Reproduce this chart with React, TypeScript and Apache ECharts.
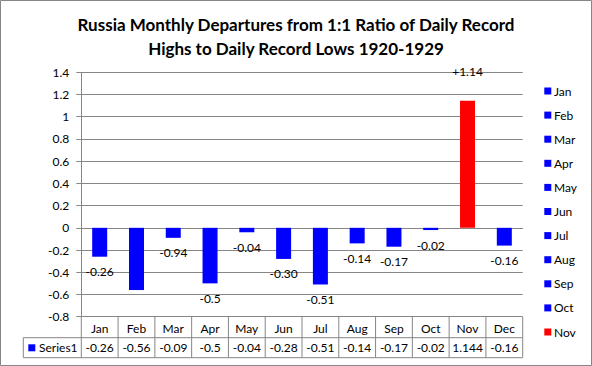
import React, { useEffect, useRef } from "react";
import * as echarts from "echarts";

const categories = ["Jan", "Feb", "Mar", "Apr", "May", "Jun", "Jul", "Aug", "Sep", "Oct", "Nov", "Dec"];
const values = [-0.26, -0.56, -0.09, -0.5, -0.04, -0.28, -0.51, -0.14, -0.17, -0.02, 1.144, -0.16];
const tableTexts = ["-0.26", "-0.56", "-0.09", "-0.5", "-0.04", "-0.28", "-0.51", "-0.14", "-0.17", "-0.02", "1.144", "-0.16"];
const barLabels = ["-0.26", "", "-0.94", "-0.5", "-0.04", "-0.30", "-0.51", "-0.14", "-0.17", "-0.02", "+1.14", "-0.16"];
const legendItems = ["Jan", "Feb", "Mar", "Apr", "May", "Jun", "Jul", "Aug", "Sep", "Oct", "Nov"];
const highlightMonth = "Nov";
const seriesName = "Series1";

const FONT = "Lato";
const BLUE = "#0000ff";
const RED = "#ff0000";
const GRAY = "#868686";

const W = 592;
const H = 366;
const GRID_LEFT = 81.3;
const GRID_RIGHT = 522.7;
const GRID_TOP = 72.3;
const GRID_BOTTOM = 316.7;
const ROW1_BOTTOM = 337.7;
const ROW2_BOTTOM = 357.7;
const TABLE_LEFT = 23.3;

export default function App() {
  const ref = useRef<HTMLDivElement>(null);
  useEffect(() => {
    document.body.style.margin = "0";
    const chart = echarts.init(ref.current!, null, { renderer: "svg" });
    const colorOf = (c: string) => (c === highlightMonth ? RED : BLUE);
    const option: any = {
      animation: false,
      title: {
        text: "Russia Monthly Departures from 1:1 Ratio of Daily Record\nHighs to Daily Record Lows 1920-1929",
        left: "center",
        top: 7,
        textStyle: { fontFamily: FONT, fontSize: 17, fontWeight: "bold", color: "#000", lineHeight: 24 },
      },
      grid: { left: GRID_LEFT, right: W - GRID_RIGHT, top: GRID_TOP, bottom: H - GRID_BOTTOM, containLabel: false },
      xAxis: {
        type: "category",
        data: categories,
        axisLine: { show: true, lineStyle: { color: GRAY, width: 1 } },
        axisTick: { show: false },
        axisLabel: { fontFamily: FONT, fontSize: 12, color: "#000", margin: 6, interval: 0 },
        splitLine: { show: false },
      },
      yAxis: {
        type: "value",
        min: -0.8,
        max: 1.4,
        interval: 0.2,
        axisLine: { show: true, lineStyle: { color: GRAY, width: 1 } },
        axisTick: { show: true, length: 5, lineStyle: { color: GRAY } },
        axisLabel: { fontFamily: FONT, fontSize: 12, color: "#000", margin: 12 },
        splitLine: { show: true, lineStyle: { color: GRAY, width: 1 } },
      },
      series: [
        {
          type: "bar",
          name: seriesName,
          barWidth: 15,
          data: values.map((v, i) => ({
            value: v,
            itemStyle: { color: colorOf(categories[i]) },
            label: {
              show: barLabels[i] !== "",
              position: v >= 0 ? "top" : "bottom",
              distance: v >= 0 ? 23 : 9,
              formatter: () => barLabels[i],
              fontFamily: FONT,
              fontSize: 12,
              color: "#000",
            },
          })),
        },
      ],
    };
    chart.setOption(option);

    const cellW = (GRID_RIGHT - GRID_LEFT) / categories.length;
    const graphics: any[] = [];
    graphics.push({
      type: "rect",
      shape: { x: 0.5, y: 0.5, width: W - 1, height: H - 1 },
      style: { fill: "none", stroke: GRAY, lineWidth: 1 },
      silent: true,
    });
    // series row of data table
    graphics.push({
      type: "rect",
      shape: { x: TABLE_LEFT, y: ROW1_BOTTOM, width: GRID_RIGHT - TABLE_LEFT, height: ROW2_BOTTOM - ROW1_BOTTOM },
      style: { fill: "none", stroke: GRAY, lineWidth: 1 },
    });
    graphics.push({
      type: "line",
      shape: { x1: GRID_RIGHT, y1: GRID_BOTTOM, x2: GRID_RIGHT, y2: ROW1_BOTTOM },
      style: { stroke: GRAY, lineWidth: 1 },
    });
    categories.forEach((c, i) => {
      const center = chart.convertToPixel({ xAxisIndex: 0 }, c) as unknown as number;
      const bx = center - cellW / 2;
      graphics.push({
        type: "line",
        shape: { x1: bx, y1: GRID_BOTTOM, x2: bx, y2: ROW2_BOTTOM },
        style: { stroke: GRAY, lineWidth: 1 },
      });
      graphics.push({
        type: "text",
        x: center,
        y: (ROW1_BOTTOM + ROW2_BOTTOM) / 2,
        style: { text: tableTexts[i], fontFamily: FONT, fontSize: 12, fill: "#000", align: "center", verticalAlign: "middle" },
      });
    });
    graphics.push({
      type: "rect",
      shape: { x: 28.3, y: 344.3, width: 7, height: 7 },
      style: { fill: BLUE },
    });
    graphics.push({
      type: "text",
      x: 39,
      y: (ROW1_BOTTOM + ROW2_BOTTOM) / 2,
      style: { text: seriesName, fontFamily: FONT, fontSize: 12, fill: "#000", align: "left", verticalAlign: "middle" },
    });
    // legend
    legendItems.forEach((m, i) => {
      const cy = 91 + i * 24.1;
      graphics.push({
        type: "rect",
        shape: { x: 544.3, y: cy - 3.5, width: 7, height: 7 },
        style: { fill: colorOf(m) },
      });
      graphics.push({
        type: "text",
        x: 554,
        y: cy,
        style: { text: m, fontFamily: FONT, fontSize: 12, fill: "#000", align: "left", verticalAlign: "middle" },
      });
    });
    chart.setOption({ graphic: graphics });
    return () => chart.dispose();
  }, []);
  return <div ref={ref} style={{ width: W, height: H }} />;
}
